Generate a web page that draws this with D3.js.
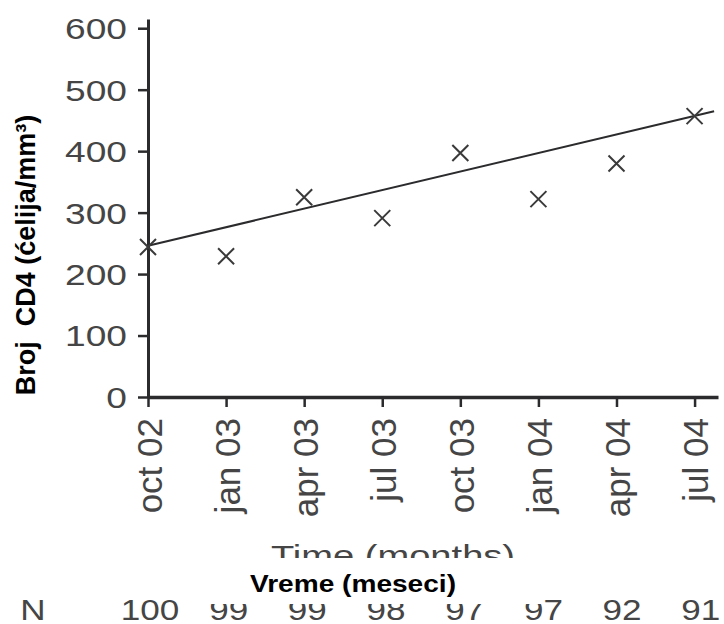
<!DOCTYPE html>
<html>
<head>
<meta charset="utf-8">
<script src="https://cdn.jsdelivr.net/npm/d3@7"></script>
<style>
  body { margin: 0; background: #fff; }
  svg { display: block; font-family: "Liberation Sans", Arial, sans-serif; }
</style>
</head>
<body>
<svg id="svg"></svg>
<script>
//data
let months = ['oct 02', 'jan 03', 'apr 03', 'jul 03', 'oct 03', 'jan 04', 'apr 04', 'jul 04']
let cd4 = [244, 229, 325, 291, 397, 322, 380, 457]
let counts = [100, 99, 99, 98, 97, 97, 92, 91]
let yTicks = [0, 100, 200, 300, 400, 500, 600]
//regression line ends (index on time axis, value)
let trendIdx = [0, 7.25]
let trendVal = [246, 465]

let width = 724, height = 624
let grey = '#454545', ink = '#2b2a2c'

let svg = d3.select('#svg').attr('width', width).attr('height', height)

//scales
let x = d3.scaleLinear().domain([0, 7.3]).range([148, 718])
let y = d3.scaleLinear().domain([0, 615]).range([397, 19])

//y axis
let yGroup = svg.append('g')
    .attr('transform', 'translate(148,0)')
    .call(d3.axisLeft(y).tickValues(yTicks).tickSize(10).tickSizeOuter(0).tickPadding(0))
yGroup.select('.domain').attr('stroke', ink).attr('stroke-width', 3)
yGroup.selectAll('.tick line').attr('stroke', ink).attr('stroke-width', 2.5)
yGroup.selectAll('.tick text')
    .attr('x', 0).attr('dy', '0.36em')
    .attr('transform', 'translate(-21,0) scale(1.28,1)')
    .attr('fill', grey)
    .style('font-size', '29px')
    .style('font-family', '"Liberation Sans", Arial, sans-serif')

//x axis
let xGroup = svg.append('g')
    .attr('transform', 'translate(0,397)')
    .call(d3.axisBottom(x).tickValues(d3.range(months.length)).tickFormat(i => months[i])
        .tickSize(10).tickSizeOuter(0))
xGroup.select('.domain').attr('stroke', ink).attr('stroke-width', 3.5)
xGroup.selectAll('.tick line').attr('stroke', ink).attr('stroke-width', 2.5)
xGroup.selectAll('.tick text')
    .attr('x', 0).attr('y', 0).attr('dy', 0)
    .attr('text-anchor', 'end')
    .attr('transform', 'translate(13,21) rotate(-90)')
    .attr('fill', grey)
    .style('font-size', '35px')
    .style('font-family', '"Liberation Sans", Arial, sans-serif')

//trend line
let line = d3.line().x(d => x(d[0])).y(d => y(d[1]))
svg.append('path')
    .datum(d3.zip(trendIdx, trendVal))
    .attr('d', line)
    .attr('fill', 'none')
    .attr('stroke', ink)
    .attr('stroke-width', 2)

//x markers
svg.append('g')
    .selectAll('path')
    .data(cd4)
    .join('path')
    .attr('transform', (d, i) => `translate(${x(i)},${y(d)})`)
    .attr('d', 'M-8,-8L8,8M-8,8L8,-8')
    .attr('fill', 'none')
    .attr('stroke', '#3a3a3a')
    .attr('stroke-width', 2)

//axis captions
svg.append('text')
    .attr('transform', 'translate(393,566) scale(1.27,1)')
    .attr('text-anchor', 'middle')
    .attr('fill', grey)
    .style('font-size', '30px')
    .text('Time (months)')

//N row
svg.append('text')
    .attr('transform', 'translate(33,620) scale(1.17,1)')
    .attr('text-anchor', 'middle')
    .attr('fill', grey)
    .style('font-size', '30px')
    .text('N')
svg.append('g')
    .selectAll('text')
    .data(counts)
    .join('text')
    .attr('transform', (d, i) => `translate(${x(i) + 2 + i * 0.6},620) scale(1.17,1)`)
    .attr('text-anchor', 'middle')
    .attr('fill', grey)
    .style('font-size', '30px')
    .text(d => d)

//white patch with the translated caption
svg.append('rect')
    .attr('x', 200).attr('y', 558)
    .attr('width', 343).attr('height', 46)
    .attr('fill', '#fff')
svg.append('text')
    .attr('transform', 'translate(353,592) scale(1.17,1)')
    .attr('text-anchor', 'middle')
    .attr('fill', '#000')
    .style('font-size', '24px')
    .style('font-weight', 'bold')
    .text('Vreme (meseci)')

//y caption
svg.append('text')
    .attr('transform', 'translate(35,255) rotate(-90)')
    .attr('text-anchor', 'middle')
    .attr('fill', '#000')
    .style('font-size', '27px')
    .style('font-weight', 'bold')
    .style('white-space', 'pre')
    .text('Broj  CD4 (ćelija/mm³)')
</script>
</body>
</html>
